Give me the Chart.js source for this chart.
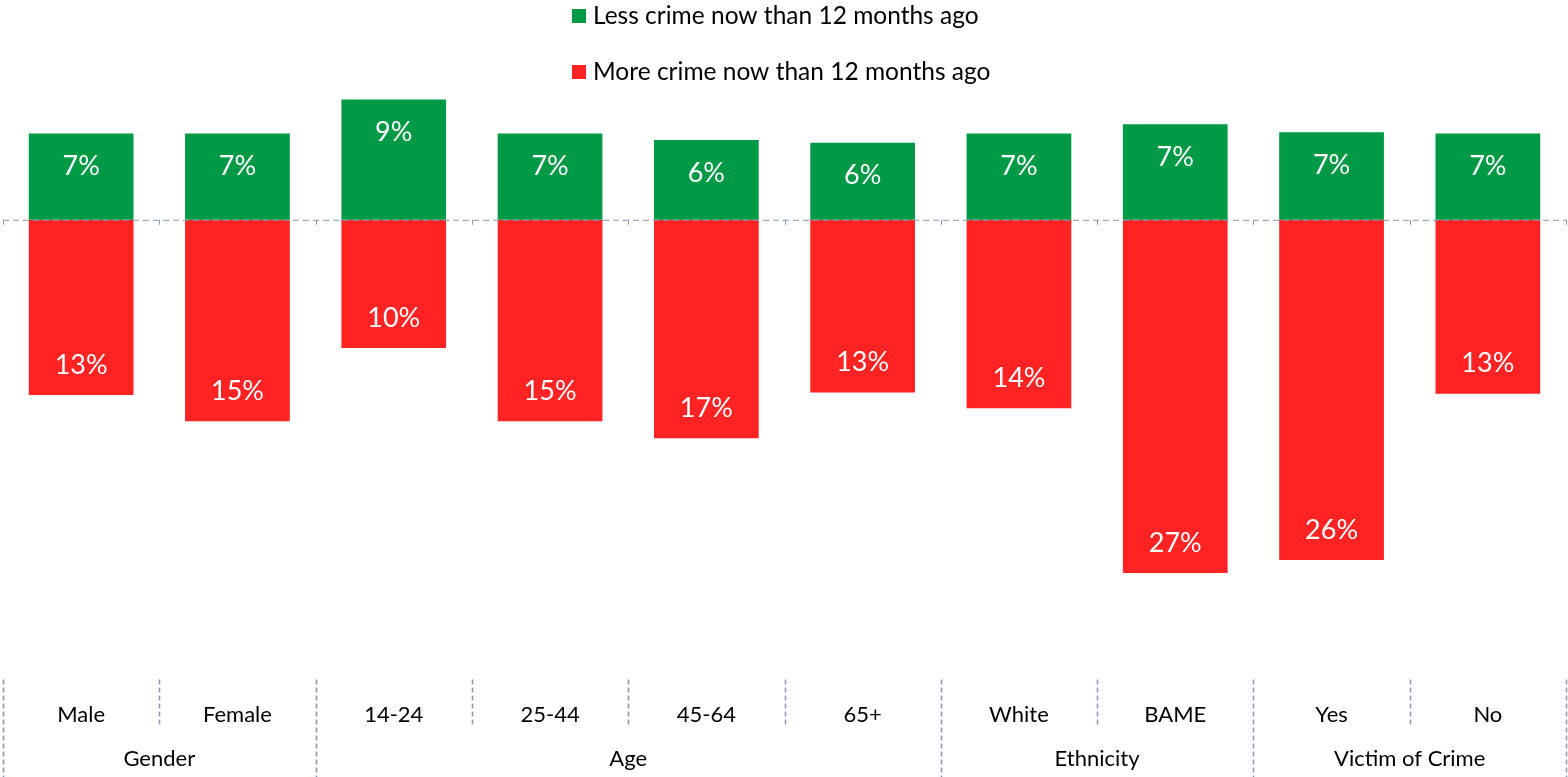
<!DOCTYPE html>
<html>
<head>
<meta charset="utf-8">
<script src="https://cdn.jsdelivr.net/npm/chart.js@4/dist/chart.umd.min.js"></script>
<style>
  html, body { margin: 0; padding: 0; background: #fff; }
  #wrap { width: 1568px; height: 777px; }
</style>
</head>
<body>
<div id="wrap"><canvas id="crimeChart"></canvas></div>
<script>
// categories and groups
const categories = ["Male", "Female", "14-24", "25-44", "45-64", "65+", "White", "BAME", "Yes", "No"];
const groupLabels = ["Gender", "Age", "Ethnicity", "Victim of Crime"];
const groupSizes = [2, 4, 2, 2];

// % who think there is less / more crime now than 12 months ago
const lessCrime = [6.6, 6.6, 9.2, 6.6, 6.1, 5.9, 6.6, 7.3, 6.7, 6.6];
const moreCrime = [-13.4, -15.4, -9.8, -15.4, -16.7, -13.2, -14.4, -27.0, -26.0, -13.3];

const FONT = "Lato, 'Open Sans', sans-serif";
const GREEN = "#009A46";
const RED = "#FF2323";
const LINE = "#8496B0";

// dashed zero line + value labels inside bars
const barLabels = {
  id: "barLabels",
  afterDatasetsDraw(chart) {
    const ctx = chart.ctx;
    const area = chart.chartArea;
    const y0 = chart.scales.y.getPixelForValue(0);
    const xs = chart.scales.x;
    ctx.save();
    ctx.strokeStyle = LINE;
    ctx.lineWidth = 1;
    ctx.setLineDash([6, 4]);
    ctx.beginPath();
    ctx.moveTo(area.left, y0 + 0.5);
    ctx.lineTo(area.right, y0 + 0.5);
    ctx.stroke();
    ctx.setLineDash([]);
    for (let i = 0; i <= categories.length; i++) {
      const x = Math.round(xs.getPixelForValue(i - 0.5)) + 0.5;
      ctx.beginPath();
      ctx.moveTo(x, y0);
      ctx.lineTo(x, y0 + 5);
      ctx.stroke();
    }

    ctx.fillStyle = "#fff";
    ctx.font = "27px " + FONT;
    ctx.textAlign = "center";
    ctx.textBaseline = "middle";
    chart.data.datasets.forEach((ds, di) => {
      chart.getDatasetMeta(di).data.forEach((bar, i) => {
        const v = ds.data[i];
        const txt = Math.round(Math.abs(v)) + "%";
        const y = v >= 0 ? bar.y + 33 : bar.y - 30;
        ctx.fillText(txt, bar.x, y);
      });
    });
    ctx.restore();
  }
};

// legend stacked in two rows + two level category axis
const extras = {
  id: "extras",
  afterDraw(chart) {
    const ctx = chart.ctx;
    const xs = chart.scales.x;
    const top = chart.chartArea.bottom;
    ctx.save();

    // legend
    ctx.font = "24.5px " + FONT;
    ctx.textAlign = "left";
    ctx.textBaseline = "middle";
    chart.data.datasets.forEach((ds, i) => {
      const y = 16 + i * 56;
      ctx.fillStyle = ds.backgroundColor;
      ctx.fillRect(572, y - 7, 14, 14);
      ctx.fillStyle = "#000";
      ctx.fillText(ds.label, 593, y);
    });

    // separators
    const bounds = [0];
    groupSizes.reduce((a, n) => { bounds.push(a + n); return a + n; }, 0);
    ctx.strokeStyle = LINE;
    ctx.lineWidth = 1.5;
    ctx.setLineDash([5, 3]);
    for (let i = 0; i <= categories.length; i++) {
      const x = Math.round(xs.getPixelForValue(i - 0.5)) + 0.5;
      const isGroup = bounds.includes(i);
      ctx.beginPath();
      ctx.moveTo(x, top + 2);
      ctx.lineTo(x, isGroup ? 777 : top + 48);
      ctx.stroke();
    }
    ctx.setLineDash([]);

    // group labels
    ctx.fillStyle = "#000";
    ctx.font = "22px " + FONT;
    ctx.textAlign = "center";
    let start = 0;
    groupLabels.forEach((g, i) => {
      const end = start + groupSizes[i];
      const x = (xs.getPixelForValue(start - 0.5) + xs.getPixelForValue(end - 0.5)) / 2;
      ctx.fillText(g, x, 759);
      start = end;
    });
    ctx.restore();
  }
};

new Chart(document.getElementById("crimeChart"), {
  type: "bar",
  data: {
    labels: categories,
    datasets: [
      {
        label: "Less crime now than 12 months ago",
        data: lessCrime,
        backgroundColor: GREEN
      },
      {
        label: "More crime now than 12 months ago",
        data: moreCrime,
        backgroundColor: RED
      }
    ]
  },
  options: {
    responsive: true,
    maintainAspectRatio: false,
    animation: false,
    barPercentage: 0.67,
    categoryPercentage: 1,
    layout: {
      padding: { top: 89, bottom: 25, left: 3, right: 2 }
    },
    plugins: {
      legend: { display: false },
      tooltip: { enabled: false }
    },
    scales: {
      x: {
        stacked: true,
        grid: { display: false, drawTicks: false, tickLength: 0 },
        border: { display: false },
        ticks: {
          padding: 24,
          color: "#000",
          font: { size: 22, family: FONT }
        }
      },
      y: {
        stacked: true,
        display: false,
        min: -35,
        max: 10
      }
    }
  },
  plugins: [barLabels, extras]
});
</script>
</body>
</html>
